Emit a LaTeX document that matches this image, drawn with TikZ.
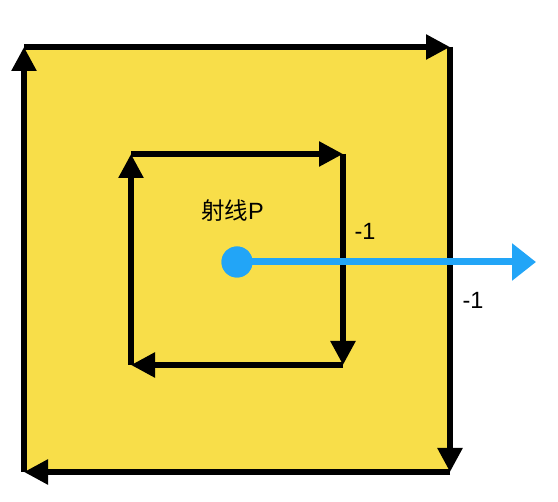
\documentclass[tikz,border=0pt]{standalone}
\usepackage{fontspec}
\setmainfont{Liberation Sans}
\newfontfamily\cjk{Noto Sans CJK SC}
\usepackage{xcolor}
\usepackage{tikz}
\usetikzlibrary{positioning,arrows.meta}
\definecolor{fillyellow}{RGB}{248,222,73}
\definecolor{rayblue}{RGB}{34,165,247}
\tikzset{
    edge/.style={line width=5.5pt,draw=black,-{Triangle[length=24pt,width=24pt]}},
    ray/.style={line width=7pt,draw=rayblue,-{Triangle[length=24pt,width=36pt]}},
    pt/.style={circle,fill=rayblue,minimum size=31pt,inner sep=0pt},
    lbl/.style={inner sep=0pt,font=\fontsize{23.5}{26}\selectfont},
}

\begin{document}
\begin{tikzpicture}[x=1pt,y=-1pt]
\useasboundingbox (0,0) rectangle (558,502);
% outer loop
\coordinate (o1) at (24,47);
\coordinate (o2) at (450,47);
\coordinate (o3) at (450,472);
\coordinate (o4) at (24,472);
\fill[fillyellow] (o1) rectangle (o3);
\draw[edge] (o1) -- (o2);
\draw[edge] (o2) -- (o3);
\draw[edge] (o3) -- (o4);
\draw[edge] (o4) -- (o1);
% inner loop
\coordinate (i1) at (131,154);
\coordinate (i2) at (343,154);
\coordinate (i3) at (343,365);
\coordinate (i4) at (131,365);
\draw[edge] (i1) -- (i2);
\draw[edge] (i2) -- (i3);
\draw[edge] (i3) -- (i4);
\draw[edge] (i4) -- (i1);
% ray from P
\node[pt] (p) at (237,262) {};
\coordinate (rayend) at (536,262);
\draw[ray] (p.center) -- (rayend);
\node[pt] at (p) {};
\node[lbl] (plbl) at (232.5,211) {{\cjk 射线}P};
\node[lbl] (c1) at (365,231) {-1};
\node[lbl] (c2) at (473,300) {-1};
\end{tikzpicture}
\end{document}
